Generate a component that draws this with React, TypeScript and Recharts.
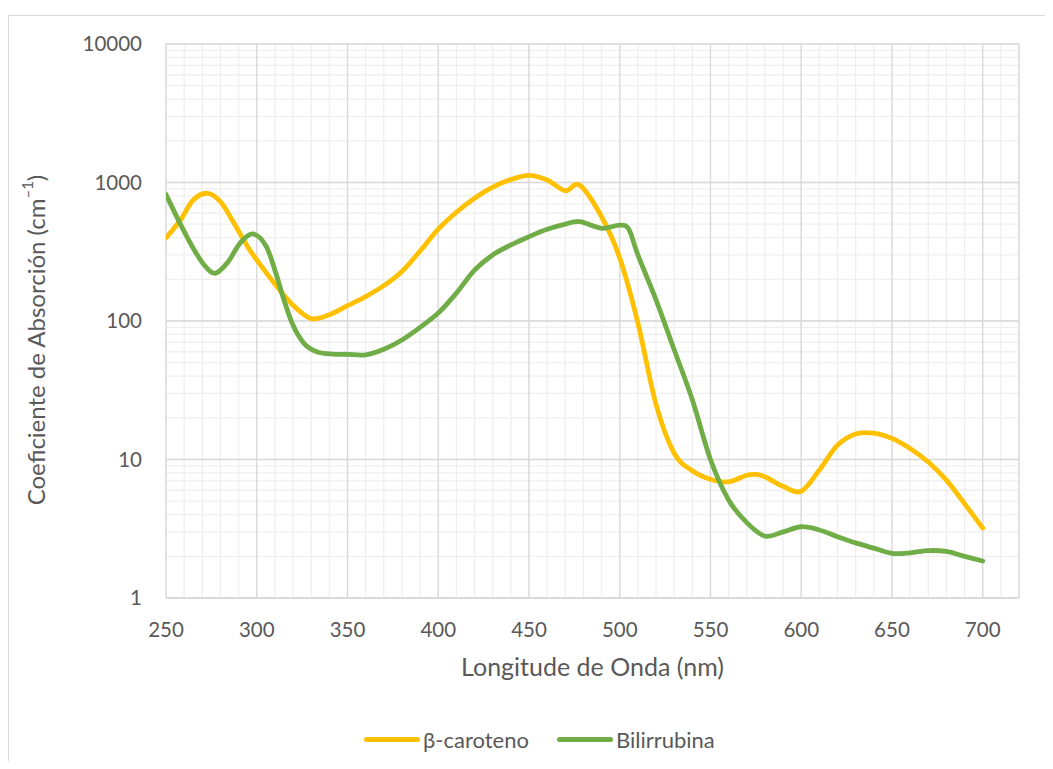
import { CartesianGrid, Legend, Line, LineChart, XAxis, YAxis } from "recharts";

const caroteneNm = [250, 258, 265, 273, 280, 287, 295, 300, 310, 320, 330, 340, 350, 360, 370, 380, 390, 400, 410, 420, 430, 440, 450, 460, 470, 478, 490, 500, 510, 520, 530, 540, 550, 560, 570, 575, 580, 590, 600, 610, 620, 630, 640, 650, 660, 670, 680, 690, 700];
const caroteneAbs = [398, 536, 748, 836, 727, 521, 344, 276, 185, 130, 104, 111, 129, 150, 180, 228, 320, 460, 610, 770, 925, 1050, 1125, 1042, 873, 955, 566, 285, 97, 25, 11.1, 8.3, 7.2, 6.9, 7.7, 7.8, 7.5, 6.4, 5.9, 8.4, 12.7, 15.3, 15.5, 14.2, 12.0, 9.6, 7.1, 4.8, 3.2];

const bilirubinNm = [250, 258, 265, 271, 277, 284, 291, 298, 305, 310, 315, 320, 326, 333, 342, 350, 360, 370, 380, 390, 400, 410, 420, 430, 440, 450, 460, 470, 478, 490, 500, 505, 510, 520, 530, 540, 550, 560, 570, 580, 590, 600, 610, 620, 630, 640, 650, 660, 670, 680, 690, 700];
const bilirubinAbs = [820, 498, 335, 254, 221, 265, 368, 425, 350, 233, 142, 93, 69, 60, 57.7, 57.5, 57, 62.5, 73, 90, 114, 159, 233, 300, 354, 406, 459, 501, 521, 467, 493, 459, 300, 142, 62, 27, 10, 5.1, 3.5, 2.8, 3.0, 3.27, 3.1, 2.77, 2.5, 2.29, 2.1, 2.12, 2.2, 2.17, 2.0, 1.85];

const xTicks = [250, 300, 350, 400, 450, 500, 550, 600, 650, 700];
const xMinorTicks = [250, 260, 270, 280, 290, 300, 310, 320, 330, 340, 350, 360, 370, 380, 390, 400, 410, 420, 430, 440, 450, 460, 470, 480, 490, 500, 510, 520, 530, 540, 550, 560, 570, 580, 590, 600, 610, 620, 630, 640, 650, 660, 670, 680, 690, 700, 710, 720];
const yTicks = [1, 10, 100, 1000, 10000];
const yMinorTicks = [
  1, 2, 3, 4, 5, 6, 7, 8, 9,
  10, 20, 30, 40, 50, 60, 70, 80, 90,
  100, 200, 300, 400, 500, 600, 700, 800, 900,
  1000, 2000, 3000, 4000, 5000, 6000, 7000, 8000, 9000, 10000,
];

const carotene = caroteneNm.map((nm, i) => ({ nm, value: caroteneAbs[i] }));
const bilirubin = bilirubinNm.map((nm, i) => ({ nm, value: bilirubinAbs[i] }));

const FONT = "Lato, 'Open Sans', sans-serif";
const TEXT = "#595959";
const YELLOW = "#FFC000";
const GREEN = "#70AD47";

// Catmull-Rom style smoothing, close to Excel's "smoothed line"
function smoothCurve(context: any) {
  let pts: number[][] = [];
  return {
    areaStart() {},
    areaEnd() {},
    lineStart() {
      pts = [];
    },
    point(x: number, y: number) {
      pts.push([+x, +y]);
    },
    lineEnd() {
      const n = pts.length;
      if (!n) return;
      context.moveTo(pts[0][0], pts[0][1]);
      for (let i = 0; i < n - 1; i++) {
        const p0 = pts[Math.max(i - 1, 0)];
        const p1 = pts[i];
        const p2 = pts[i + 1];
        const p3 = pts[Math.min(i + 2, n - 1)];
        context.bezierCurveTo(
          p1[0] + (p2[0] - p0[0]) / 6,
          p1[1] + (p2[1] - p0[1]) / 6,
          p2[0] - (p3[0] - p1[0]) / 6,
          p2[1] - (p3[1] - p1[1]) / 6,
          p2[0],
          p2[1]
        );
      }
    },
  };
}

function YTitle(props: any) {
  const vb = props.viewBox || { y: 36, height: 554 };
  const cx = 27;
  const cy = vb.y + vb.height / 2 + 19;
  return (
    <text
      x={cx}
      y={cy}
      transform={`rotate(-90, ${cx}, ${cy})`}
      textAnchor="middle"
      dominantBaseline="central"
      fill={TEXT}
      fontSize={24}
      fontFamily={FONT}
    >
      Coeficiente de Absorción (cm
      <tspan fontSize={15} dy={-8}>–1</tspan>
      <tspan dy={8}>)</tspan>
    </text>
  );
}

function LegendContent() {
  const items = [
    { name: "β-caroteno", color: YELLOW },
    { name: "Bilirrubina", color: GREEN },
  ];
  return (
    <div style={{ display: "flex", alignItems: "center", fontFamily: FONT, fontSize: 22, color: TEXT }}>
      {items.map((it) => (
        <div key={it.name} style={{ display: "flex", alignItems: "center", marginRight: 28 }}>
          <span style={{ display: "inline-block", width: 56, height: 5, borderRadius: 3, background: it.color, marginRight: 3 }} />
          <span>{it.name}</span>
        </div>
      ))}
    </div>
  );
}

export default function App() {
  return (
    <div style={{ position: "relative", width: 1030, height: 753 }}>
      <div style={{ position: "absolute", left: 0, top: 7, width: 1044, height: 1, background: "#d9d9d9" }} />
      <div style={{ position: "absolute", left: 0, top: 7, width: 1, height: 753, background: "#d9d9d9" }} />
      <LineChart width={1030} height={753} margin={{ top: 36, right: 19, left: 0, bottom: 63 }}>
        <XAxis
          xAxisId="minor"
          dataKey="nm"
          type="number"
          domain={[250, 720]}
          ticks={xMinorTicks}
          interval={0}
          allowDataOverflow
          hide
        />
        <YAxis
          yAxisId="minor"
          scale="log"
          domain={[1, 10000]}
          ticks={yMinorTicks}
          interval={0}
          allowDataOverflow
          hide
        />
        <CartesianGrid xAxisId="minor" yAxisId="minor" stroke="#efefef" strokeWidth={1.3} />
        <XAxis
          dataKey="nm"
          type="number"
          domain={[250, 720]}
          ticks={xTicks}
          interval={0}
          allowDataOverflow
          tickLine={false}
          tickSize={0}
          tickMargin={24}
          axisLine={{ stroke: "#d9d9d9", strokeWidth: 1.3 }}
          tick={{ fill: TEXT, fontSize: 20.5, fontFamily: FONT }}
          height={100}
          label={{
            value: "Longitude de Onda (nm)",
            position: "insideBottom",
            offset: 22,
            fill: TEXT,
            fontSize: 25,
            fontFamily: FONT,
          }}
        />
        <YAxis
          scale="log"
          domain={[1, 10000]}
          ticks={yTicks}
          interval={0}
          allowDataOverflow
          tickLine={false}
          axisLine={false}
          tickSize={0}
          tickMargin={24}
          width={158}
          tick={{ fill: TEXT, fontSize: 20.5, fontFamily: FONT }}
          tickFormatter={(v: number) => String(v)}
          label={<YTitle />}
        />
        <CartesianGrid stroke="#d9d9d9" strokeWidth={1.3} />
        <Legend
          layout="horizontal"
          verticalAlign="middle"
          align="center"
          wrapperStyle={{ left: 356, top: 718, width: 440, height: 28 }}
          content={<LegendContent />}
        />
        <Line
          data={carotene}
          dataKey="value"
          name="β-caroteno"
          type={smoothCurve as any}
          stroke={YELLOW}
          strokeWidth={4.8}
          strokeLinecap="round"
          dot={false}
          activeDot={false}
          isAnimationActive={false}
        />
        <Line
          data={bilirubin}
          dataKey="value"
          name="Bilirrubina"
          type={smoothCurve as any}
          stroke={GREEN}
          strokeWidth={4.8}
          strokeLinecap="round"
          dot={false}
          activeDot={false}
          isAnimationActive={false}
        />
      </LineChart>
    </div>
  );
}
